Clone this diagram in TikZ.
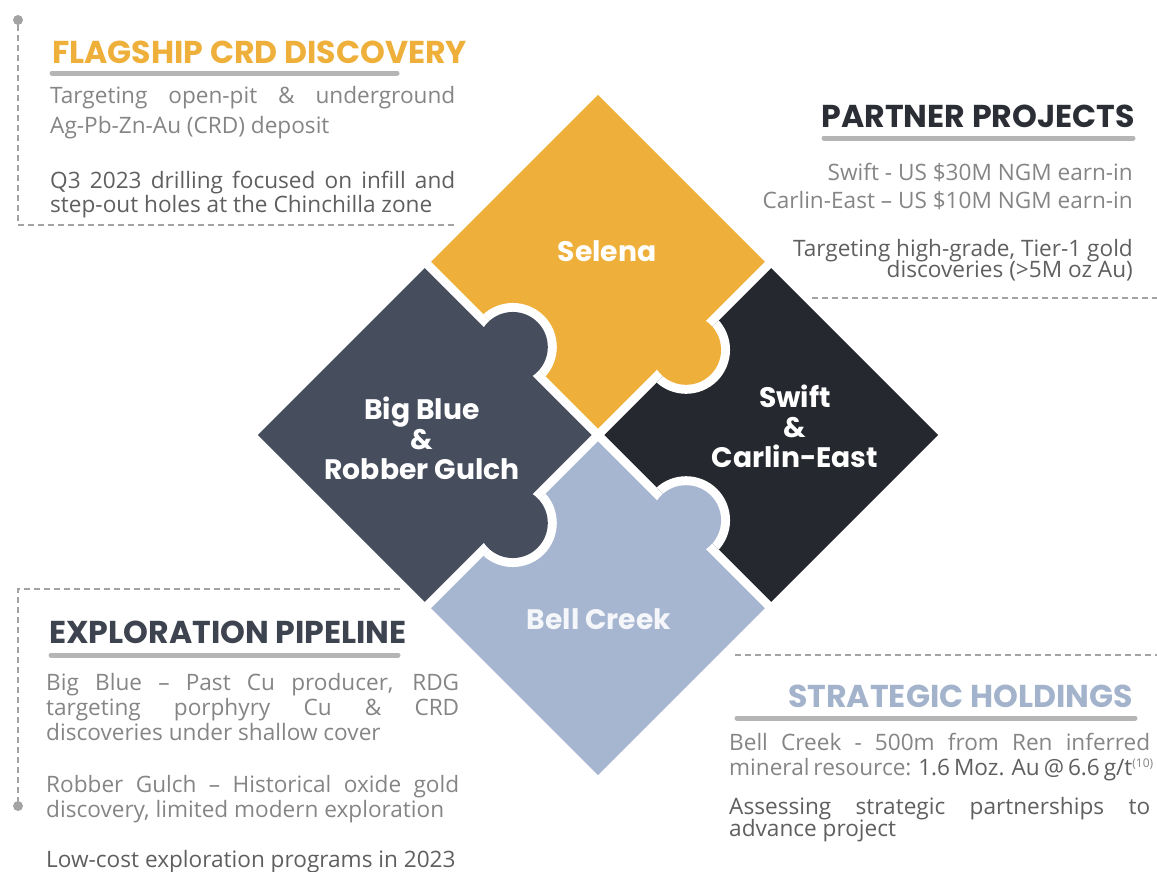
\documentclass[tikz,border=0pt]{standalone}
\usepackage{fontspec}
\setmainfont{Open Sans}
\newfontfamily\popfont{Poppins}
\definecolor{selcol}{HTML}{EEB03A}
\definecolor{bigcol}{HTML}{464E5D}
\definecolor{swicol}{HTML}{25282E}
\definecolor{belcol}{HTML}{A6B5D0}
\definecolor{txtcol}{HTML}{858585}
\definecolor{darktxt}{HTML}{5F5F5F}
\definecolor{barcol}{HTML}{B5B5B5}
\definecolor{dashcol}{HTML}{A3A3A3}
\definecolor{ptcol}{HTML}{2B2E35}
\definecolor{excol}{HTML}{3E4350}
\definecolor{stcol}{HTML}{A3B3CC}

\begin{document}
\begin{tikzpicture}[x=1pt,y=-1pt,
  ttl/.style={anchor=base west, inner sep=0pt, font=\popfont\bfseries\fontsize{31.6}{32}\selectfont},
  txt/.style={anchor=base west, inner sep=0pt, text=txtcol, font=\fontsize{22.6}{23}\selectfont},
  pce/.style={text=white, align=center, inner sep=0pt, font=\popfont\bfseries\fontsize{28.2}{30}\selectfont},
  bar/.style={line width=5pt, line cap=round, barcol},
  dsh/.style={dashcol, line width=1.4pt, dash pattern=on 6pt off 4pt}]
\tikzstyle{dot}=[circle, fill=dashcol, inner sep=0pt, minimum size=10pt]
\useasboundingbox (0,0) rectangle (1157,871);

% the four puzzle pieces
\begin{scope}[shift={(598,435)}, x={(0.7071pt,0.7071pt)}, y={(-0.7071pt,0.7071pt)}]
\foreach \ax/\ay/\bx/\by/\col in {4.5/4.5/240.5/240.5/selcol, 4.5/-4.5/240.5/-240.5/swicol,
    -4.5/4.5/-240.5/240.5/bigcol, -4.5/-4.5/-240.5/-240.5/belcol}{
  \fill[\col] (\ax,\ay) -- (\bx,\ay) -- (\bx,\by) -- (\ax,\by) -- cycle;
}
\foreach \kx/\ky/\col/\ax/\ay/\bx/\by in {2/122.5/bigcol/4.5/4.5/240.5/240.5,
    122.5/-2/selcol/4.5/-4.5/240.5/-240.5, -122.5/-2/bigcol/-4.5/-4.5/-240.5/-240.5,
    2/-122.5/belcol/4.5/-4.5/240.5/-240.5}{
  \begin{scope}
  \clip (\ax,\ay) -- (\bx,\ay) -- (\bx,\by) -- (\ax,\by) -- cycle;
  \fill[white] (\kx,\ky) circle[radius=44];
  \end{scope}
  \fill[\col] (\kx,\ky) circle[radius=35];
}
\end{scope}

\node[pce] (selena) at (607,251) {Selena};
\node[pce] (bigblue) at (422,438) {Big Blue\\\&\\Robber Gulch};
\node[pce] (swift) at (795,426) {Swift\\\&\\Carlin-East};
\node[pce, text=white!88!belcol] (bell) at (599,619) {Bell Creek};

% flagship
\node[dot] (dotA) at (18,20) {};
\coordinate (cornA) at (18,225);
\coordinate (endA) at (455,225);
\draw[dsh] (dotA) -- (cornA) -- (endA);
\node[ttl, text=selcol] (flagT) at (52,63) {FLAGSHIP CRD DISCOVERY};
\draw[bar] (52,73) -- (397,73);
\node[txt] (flag1) at (50,103) {\makebox[405pt][s]{Targeting open-pit \& underground}};
\node[txt] (flag2) at (50,133) {Ag-Pb-Zn-Au (CRD) deposit};
\node[txt, text=darktxt] (flag3) at (50,188) {\makebox[405pt][s]{Q3 2023 drilling focused on infill and}};
\node[txt, text=darktxt] (flag4) at (50,212) {step-out holes at the Chinchilla zone};

% partner
\node[ttl, anchor=base east, text=ptcol] (partT) at (1135,127) {PARTNER PROJECTS};
\draw[bar] (824,138) -- (1133,138);
\node[txt, anchor=base east] (part1) at (1133,180) {Swift - US \$30M NGM earn-in};
\node[txt, anchor=base east] (part2) at (1133,208) {Carlin-East – US \$10M NGM earn-in};
\node[txt, anchor=base east, text=darktxt] (part3) at (1133,256) {Targeting high-grade, Tier-1 gold};
\node[txt, anchor=base east, text=darktxt] (part4) at (1133,277) {discoveries (>5M oz Au)};
\coordinate (startB) at (812,298);
\coordinate (endB) at (1157,298);
\draw[dsh] (startB) -- (endB);

% exploration
\coordinate (startC) at (400,589);
\coordinate (cornC) at (18,589);
\node[dot] (dotC) at (18,806) {};
\draw[dsh] (startC) -- (cornC) -- (dotC);
\node[ttl, text=excol] (explT) at (49,643) {EXPLORATION PIPELINE};
\draw[bar] (51,655) -- (398,655);
\node[txt] (expl1) at (46,690) {\makebox[413pt][s]{Big Blue – Past Cu producer, RDG}};
\node[txt] (expl2) at (46,715) {\makebox[413pt][s]{targeting porphyry Cu \& CRD}};
\node[txt] (expl3) at (46,740) {discoveries under shallow cover};
\node[txt] (expl4) at (46,792) {\makebox[413pt][s]{Robber Gulch – Historical oxide gold}};
\node[txt] (expl5) at (46,817) {discovery, limited modern exploration};
\node[txt, text=darktxt] (expl6) at (46,867) {Low-cost exploration programs in 2023};

% strategic
\coordinate (startD) at (735,655);
\coordinate (endD) at (1157,655);
\draw[dsh] (startD) -- (endD);
\node[ttl, anchor=base east, text=stcol] (stratT) at (1133,707) {STRATEGIC HOLDINGS};
\draw[bar] (737,718) -- (1135,718);
\node[txt] (strat1) at (729,750) {\makebox[421pt][s]{Bell Creek - 500m from Ren inferred}};
\node[txt] (strat2) at (729,775) {\makebox[421pt][s]{mineral resource: {\color{darktxt}1.6 Moz. Au @ 6.6 g/t}\raisebox{8pt}{\fontsize{12}{12}\selectfont(10)}}};
\node[txt, text=darktxt] (strat3) at (729,814) {\makebox[421pt][s]{Assessing strategic partnerships to}};
\node[txt, text=darktxt] (strat4) at (729,836) {advance project};
\end{tikzpicture}
\end{document}
